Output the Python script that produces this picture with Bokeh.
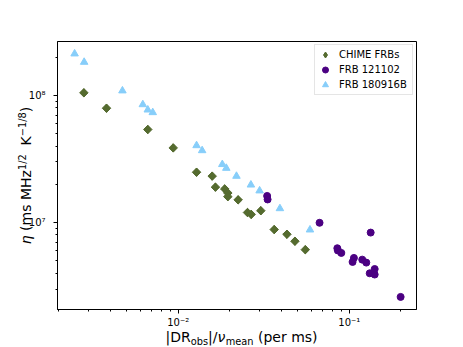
import math
from bokeh.plotting import figure
from bokeh.layouts import row, column
from bokeh.models import Range1d, FixedTicker, CustomJSTickFormatter, Label, Legend, LegendItem
from bokeh.embed import file_html
from bokeh.resources import INLINE

# ---------------- data ----------------
chime_x = [2.81e-3, 3.81e-3, 6.64e-3, 9.35e-3, 1.28e-2, 1.58e-2, 1.65e-2, 1.87e-2, 1.95e-2,
           1.95e-2, 2.24e-2, 2.54e-2, 2.67e-2, 3.04e-2, 3.64e-2, 4.32e-2, 4.81e-2, 5.53e-2]
chime_y = [1.05e8, 7.94e7, 5.40e7, 3.87e7, 2.49e7, 2.32e7, 1.90e7, 1.84e7, 1.71e7,
           1.60e7, 1.51e7, 1.20e7, 1.16e7, 1.24e7, 8.81e6, 8.09e6, 7.13e6, 6.12e6]

r121102_x = [3.31e-2, 3.33e-2, 6.70e-2, 8.51e-2, 8.57e-2, 8.98e-2, 0.1064, 0.1045,
             0.119, 0.1257, 0.1333, 0.1407, 0.1316, 0.1407, 0.1995]
r121102_y = [1.62e7, 1.52e7, 9.96e6, 6.28e6, 6.03e6, 5.77e6, 5.27e6, 4.90e6,
             5.11e6, 4.84e6, 8.34e6, 4.31e6, 3.99e6, 3.90e6, 2.60e6]

r180916_x = [2.48e-3, 2.82e-3, 4.72e-3, 6.21e-3, 6.64e-3, 7.10e-3, 1.28e-2, 1.38e-2,
             1.81e-2, 1.91e-2, 2.19e-2, 2.66e-2, 2.99e-2, 3.93e-2, 5.89e-2]
r180916_y = [2.13e8, 1.83e8, 1.09e8, 8.49e7, 7.71e7, 7.35e7, 4.04e7, 3.69e7,
             2.87e7, 2.68e7, 2.32e7, 1.98e7, 1.78e7, 1.29e7, 8.77e6]

series_names = ["CHIME FRBs", "FRB 121102", "FRB 180916B"]

x_tick_vals = [1e-2, 1e-1]
x_tick_labels = ["10\u207b\u00b2", "10\u207b\u00b9"]
y_tick_vals = [1e7, 1e8]
y_tick_labels = ["10\u2077", "10\u2078"]

x_limits = (1.97e-3, 0.247)
y_limits = (2.07e6, 2.66e8)

# ---------------- geometry ----------------
FW, FH = 359, 268          # plot frame
TOP, BOT = 41, 20          # main figure borders above/below the frame
LEFT_W = 53                # width of the left strip (y label + tick labels)
MAIN_L, MAIN_R = 4, 40     # main figure borders left/right of the frame
XLAB_H = 18                # height of the strip holding the x label

def minor_list(lo, hi):
    out = []
    for d in range(int(math.floor(math.log10(lo))), int(math.ceil(math.log10(hi))) + 1):
        for k in range(2, 10):
            v = k * 10 ** d
            if lo <= v <= hi:
                out.append(v)
    return out

# ---------------- main figure ----------------
y_rng = Range1d(*y_limits)
p = figure(frame_width=FW, frame_height=FH,
           x_axis_type="log", y_axis_type="log",
           x_range=Range1d(*x_limits), y_range=y_rng,
           output_backend="svg", toolbar_location=None,
           min_border_left=MAIN_L, min_border_right=MAIN_R,
           min_border_top=TOP, min_border_bottom=BOT)
p.background_fill_color = "white"
p.border_fill_color = "white"
p.outline_line_color = "black"
p.outline_line_width = 1
p.grid.visible = False

p.xaxis.ticker = FixedTicker(ticks=x_tick_vals, minor_ticks=minor_list(*x_limits))
p.yaxis.ticker = FixedTicker(ticks=y_tick_vals, minor_ticks=minor_list(*y_limits))

fmt_code = """
let best = 0, bd = Infinity;
for (let i = 0; i < tvals.length; i++) {
  const d = Math.abs(Math.log10(tick) - Math.log10(tvals[i]));
  if (d < bd) { bd = d; best = i; }
}
return tlabels[best];
"""
p.xaxis.formatter = CustomJSTickFormatter(args=dict(tvals=x_tick_vals, tlabels=x_tick_labels), code=fmt_code)
# y tick labels are drawn in the left strip (so they can sit next to the y label)
p.yaxis.formatter = CustomJSTickFormatter(code="return ''")
p.yaxis.major_label_text_font_size = "0px"
p.yaxis.major_label_standoff = 0

for ax in (p.xaxis[0], p.yaxis[0]):
    ax.axis_line_color = "black"
    ax.major_tick_line_color = "black"
    ax.minor_tick_line_color = "black"
    ax.major_tick_in = 0
    ax.major_tick_out = 4
    ax.minor_tick_in = 0
    ax.minor_tick_out = 2
p.xaxis.major_label_text_font = "DejaVu Sans"
p.xaxis.major_label_text_font_size = "10px"
p.xaxis.major_label_text_color = "black"
p.xaxis.major_label_standoff = 3

# ---------------- data marks ----------------
OLIVE, INDIGO, SKY = "#556B2F", "#4B0082", "#87CEFA"
# diamond-shaped key glyph, fully covered by the square-diamonds drawn on top
r_chime_key = p.scatter(chime_x, chime_y, marker="diamond", size=8,
                        fill_color=OLIVE, line_color=OLIVE)
r_chime = p.scatter(chime_x, chime_y, marker="square", angle=math.pi / 4, size=6,
                    fill_color=OLIVE, line_color=OLIVE)
r_121 = p.scatter(r121102_x, r121102_y, marker="circle", size=7,
                  fill_color=INDIGO, line_color=INDIGO)
r_180 = p.scatter(r180916_x, r180916_y, marker="triangle", size=7.5,
                  fill_color=SKY, line_color=SKY)

lg = Legend(items=[LegendItem(label=series_names[0], renderers=[r_chime_key]),
                   LegendItem(label=series_names[1], renderers=[r_121]),
                   LegendItem(label=series_names[2], renderers=[r_180])])
p.add_layout(lg, "center")
lg.location = "top_right"
lg.margin = 3
lg.padding = 2
lg.spacing = 0
lg.glyph_width = 16
lg.glyph_height = 15
lg.label_height = 15
lg.label_width = 71
lg.label_standoff = 6
lg.label_text_font = "DejaVu Sans"
lg.label_text_font_size = "10px"
lg.label_text_color = "black"
lg.border_line_color = "#cccccc"
lg.border_line_width = 1
lg.background_fill_alpha = 0.8

# ---------------- label strips ----------------
def strip(fw, fh, top=0, bottom=0, y_range=None, log=False):
    f = figure(frame_width=fw, frame_height=fh,
               min_border_left=0, min_border_right=0,
               min_border_top=top, min_border_bottom=bottom,
               x_range=Range1d(0, 1), y_range=y_range or Range1d(0, 1),
               y_axis_type="log" if log else "linear",
               x_axis_location=None, y_axis_location=None,
               output_backend="svg", toolbar_location=None)
    f.outline_line_color = None
    f.background_fill_color = "white"
    f.border_fill_color = "white"
    f.grid.visible = False
    return f

left = strip(LEFT_W, FH, top=TOP, bottom=BOT, y_range=y_rng, log=True)
bottom = strip(MAIN_L + FW + MAIN_R, XLAB_H)

for v, t in zip(y_tick_vals, y_tick_labels):
    left.add_layout(Label(x=LEFT_W - 8, y=v, x_units="screen", y_units="data", text=t,
                          text_font="DejaVu Sans", text_font_size="10px", text_color="black",
                          text_align="right", text_baseline="middle"))

ADV = {' ': 0.318, '(': 0.390, ')': 0.390, '|': 0.337, '/': 0.337, 'D': 0.770, 'R': 0.695,
       'o': 0.612, 'b': 0.635, 's': 0.521, 'm': 0.974, 'e': 0.615, 'a': 0.613, 'n': 0.634,
       'p': 0.635, 'r': 0.411, 'M': 0.863, 'H': 0.752, 'z': 0.525, 'K': 0.656, '1': 0.636,
       '2': 0.636, '8': 0.636, '\u2212': 0.838, '\u03b7': 0.634, '\u03bd': 0.592}

def adv(s, fs):
    return sum(ADV.get(c, 0.6) for c in s) * fs

BASE_FIX = 0.4   # the anchor sits this many em above the drawn baseline

MAIN, SUB = 14, 9.8
xlabel_parts = [("|DR", MAIN, 0, "normal"), ("obs", SUB, -3, "normal"),
                ("|/", MAIN, 0, "normal"), ("\u03bd", MAIN, 0, "italic"),
                ("mean", SUB, -3, "normal"), (" (per ms)", MAIN, 0, "normal")]
ylabel_parts = [("\u03b7", MAIN, 0, "italic"), (" (ms MHz", MAIN, 0, "normal"),
                ("1/2", SUB, 6, "normal"), ("  K", MAIN, 0, "normal"),
                ("\u22121/8", SUB, 6, "normal"), (")", MAIN, 0, "normal")]

def place(fig, parts, start, base, rotated):
    pos = start
    for txt, fs, shift, style in parts:
        stripped = txt.lstrip(" ")
        pos += adv(txt[:len(txt) - len(stripped)], fs)
        up = shift + BASE_FIX * fs
        if rotated:
            lx, ly, ang = base - up, pos, math.pi / 2
        else:
            lx, ly, ang = pos, base + up, 0
        fig.add_layout(Label(x=lx, y=ly, x_units="screen", y_units="screen", angle=ang,
                             text=stripped, text_font="DejaVu Sans", text_font_size=f"{fs}px",
                             text_font_style=style, text_color="black",
                             text_align="left", text_baseline="alphabetic"))
        pos += adv(stripped, fs)

xtot = sum(adv(t, f) for t, f, _, _ in xlabel_parts)
place(bottom, xlabel_parts, MAIN_L + FW / 2 + 0.5 - xtot / 2, 6, False)
ytot = sum(adv(t, f) for t, f, _, _ in ylabel_parts)
place(left, ylabel_parts, FH / 2 - ytot / 2, 31.5, True)

layout = row(left, column(p, bottom))
open("out.html", "w").write(file_html(layout, INLINE))
